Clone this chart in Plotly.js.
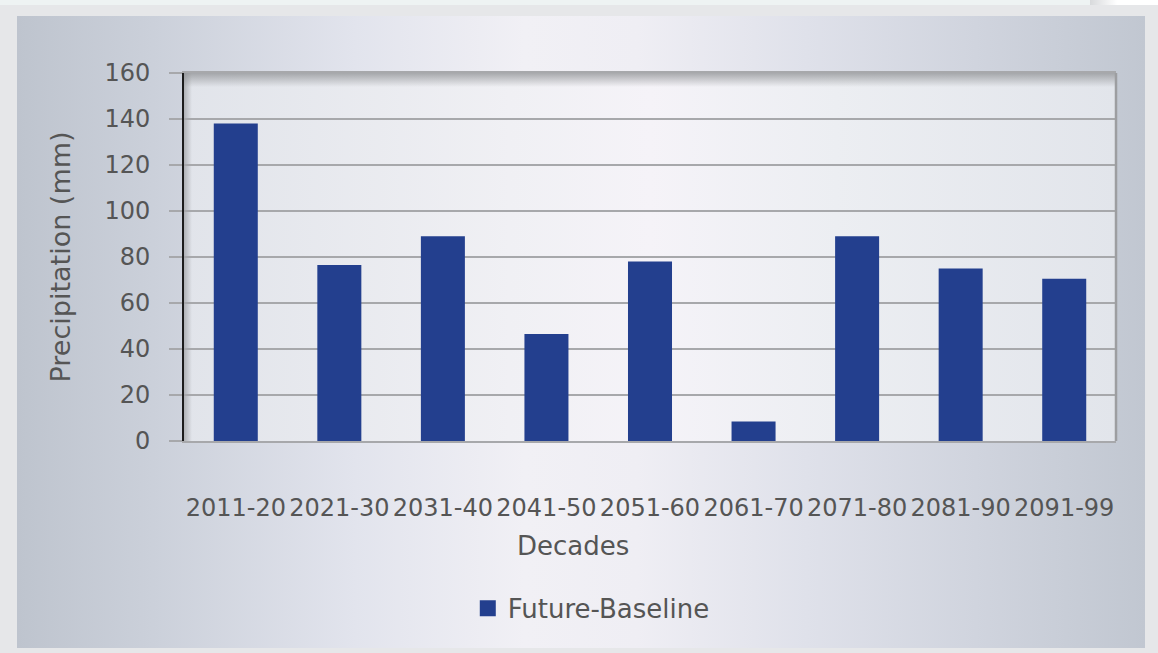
<!DOCTYPE html>
<html>
<head>
<meta charset="utf-8">
<script src="https://cdn.plot.ly/plotly-3.0.1.min.js"></script>
<style>
  html, body { margin: 0; padding: 0; background: #e6e7e9; }
  #frame { position: relative; width: 1158px; height: 653px; overflow: hidden; background: #e6e7e9; }
  #strip { position: absolute; left: 0; top: 0; width: 1158px; height: 5px; background: #eef3f3; }
  #curl { position: absolute; left: 1090px; top: 0; width: 68px; height: 5px; background: linear-gradient(to right, #d8dadc, #ffffff 40%, #ffffff); }
  #panel { position: absolute; left: 17px; top: 16px; width: 1128px; height: 632px;
    background: linear-gradient(to right, #bec4ce 0%, #cbd0da 12%, #e2e4ed 30%, #f1f0f5 45%, #efeef4 55%, #dfe1ea 70%, #d0d4de 85%, #c1c7d1 100%); }
  #chart { position: absolute; left: 0; top: 0; width: 1158px; height: 653px; }
</style>
</head>
<body>
<div id="frame">
  <div id="strip"></div>
  <div id="curl"></div>
  <div id="panel"></div>
  <div id="chart"></div>
</div>
<script>
const decades = ['2011-20', '2021-30', '2031-40', '2041-50', '2051-60', '2061-70', '2071-80', '2081-90', '2091-99'];
const futureMinusBaseline = [138, 76.5, 89, 46.5, 78, 8.5, 89, 75, 70.5];
const seriesName = 'Future-Baseline';
const xTitle = 'Decades';
const yTitle = 'Precipitation (mm)';
const yTicks = [0, 20, 40, 60, 80, 100, 120, 140, 160];

const barColor = '#233f8e';
const textColor = '#555555';
const fontFam = '"DejaVu Sans", sans-serif';

// plot-area background gradient with top/left shadow
const W = 932, H = 368;
const bgSvg = `<svg xmlns="http://www.w3.org/2000/svg" width="${W}" height="${H}" viewBox="0 0 ${W} ${H}" preserveAspectRatio="none">
<defs>
<linearGradient id="h" x1="0" y1="0" x2="1" y2="0">
<stop offset="0" stop-color="#e1e4ea"/><stop offset="0.35" stop-color="#f0f0f4"/><stop offset="0.5" stop-color="#f5f3f8"/><stop offset="0.7" stop-color="#eceef2"/><stop offset="1" stop-color="#e2e5eb"/>
</linearGradient>
<linearGradient id="t" x1="0" y1="0" x2="0" y2="1">
<stop offset="0" stop-color="#8f9194" stop-opacity="0.75"/><stop offset="1" stop-color="#8f9194" stop-opacity="0"/>
</linearGradient>
<linearGradient id="l" x1="0" y1="0" x2="1" y2="0">
<stop offset="0" stop-color="#8f9194" stop-opacity="0.6"/><stop offset="1" stop-color="#8f9194" stop-opacity="0"/>
</linearGradient>
</defs>
<rect x="0" y="0" width="${W}" height="${H}" fill="url(#h)"/>
<rect x="0" y="0" width="${W}" height="14" fill="url(#t)"/>
<rect x="0" y="0" width="8" height="${H}" fill="url(#l)"/>
</svg>`;
const bgSrc = 'data:image/svg+xml;charset=utf-8,' + encodeURIComponent(bgSvg);

const traces = [
  {
    type: 'bar',
    x: decades,
    y: futureMinusBaseline,
    name: seriesName,
    marker: { color: barColor },
    showlegend: false,
    legendgroup: 'fb',
    hoverinfo: 'x+y'
  },
  {
    type: 'scatter',
    mode: 'markers',
    x: [null],
    y: [null],
    name: seriesName,
    legendgroup: 'fb',
    marker: { symbol: 'square', size: 16, color: barColor },
    hoverinfo: 'skip'
  }
];

const layout = {
  width: 1158,
  height: 653,
  margin: { l: 184, r: 42, t: 73, b: 212 },
  paper_bgcolor: 'rgba(0,0,0,0)',
  plot_bgcolor: 'rgba(0,0,0,0)',
  font: { family: fontFam, color: textColor, size: 24 },
  bargap: 0.575,
  showlegend: true,
  legend: {
    orientation: 'h',
    x: 0.437, xanchor: 'center',
    y: -0.455, yanchor: 'middle',
    font: { family: fontFam, size: 26, color: textColor },
    bgcolor: 'rgba(0,0,0,0)'
  },
  xaxis: {
    type: 'category',
    categoryorder: 'array',
    categoryarray: decades,
    showgrid: false,
    showline: true,
    linecolor: '#a7a8ab',
    linewidth: 2,
    mirror: true,
    ticks: '',
    ticklabelstandoff: 44,
    tickfont: { family: fontFam, size: 24, color: textColor },
    tickangle: 0,
    automargin: false
  },
  yaxis: {
    range: [0, 160],
    tickmode: 'array',
    tickvals: yTicks,
    ticktext: yTicks.map(String),
    showgrid: true,
    gridcolor: '#a7a8ab',
    gridwidth: 1.5,
    zeroline: false,
    showline: true,
    linecolor: '#1c1c1c',
    linewidth: 2,
    ticks: 'outside',
    ticklen: 13,
    tickwidth: 2,
    tickcolor: '#a7a8ab',
    ticklabelstandoff: 14,
    tickfont: { family: fontFam, size: 24, color: textColor },
    automargin: false,
    title: { text: yTitle, font: { family: fontFam, size: 27, color: textColor }, standoff: 26 }
  },
  annotations: [
    { text: xTitle, xref: 'paper', yref: 'paper', x: 0.417, y: -0.285,
      xanchor: 'center', yanchor: 'middle', showarrow: false,
      font: { family: fontFam, size: 26, color: textColor } }
  ],
  shapes: [
    { type: 'line', xref: 'paper', yref: 'paper', x0: 1, x1: 1, y0: 0, y1: 1,
      line: { color: '#9d9ea1', width: 2.5 } }
  ],
  images: [
    { source: bgSrc, xref: 'paper', yref: 'paper', x: 0, y: 1, sizex: 1, sizey: 1,
      xanchor: 'left', yanchor: 'top', sizing: 'stretch', layer: 'below' }
  ]
};

Plotly.newPlot('chart', traces, layout, { displayModeBar: false, responsive: false });
</script>
</body>
</html>
